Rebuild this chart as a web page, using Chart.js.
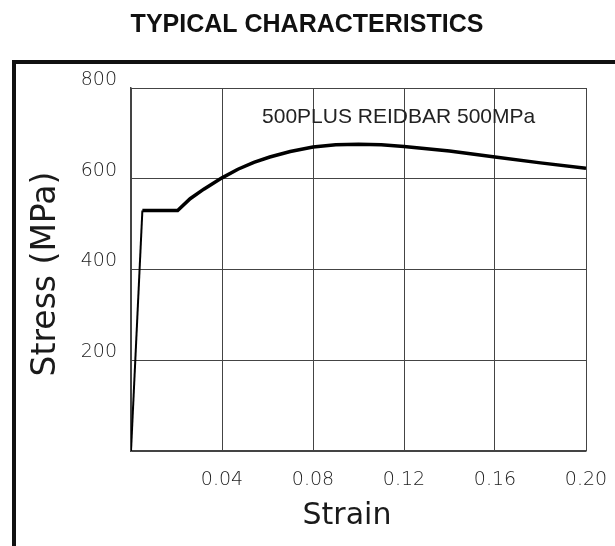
<!DOCTYPE html>
<html>
<head>
<meta charset="utf-8">
<script src="https://cdn.jsdelivr.net/npm/chart.js@4.4.0/dist/chart.umd.min.js"></script>
<style>
  html, body { margin: 0; padding: 0; background: #fff; }
  #wrap { position: relative; width: 615px; height: 546px; overflow: hidden; }
  #frame {
    position: absolute; left: 12px; top: 60px; right: -10px; bottom: -10px;
    border-top: 4px solid #111; border-left: 4px solid #111;
  }
  canvas { position: absolute; left: 0; top: 0; }
</style>
</head>
<body>
<div id="wrap">
  <div id="frame"></div>
  <canvas id="chart" width="615" height="546"></canvas>
</div>
<script>
// ── Data ──
const strain = [0, 0.005, 0.0205, 0.026, 0.032, 0.04, 0.047, 0.054, 0.061, 0.07, 0.08, 0.09, 0.10, 0.11, 0.12, 0.14, 0.16, 0.18, 0.20];
const stress = [0, 530, 530, 556, 577, 602, 621, 636, 648, 660, 670, 675, 676, 675, 671, 661, 648, 635, 623];

const xTicks = [0.04, 0.08, 0.12, 0.16, 0.20];
const yTicks = [200, 400, 600, 800];

const chartTitle = 'TYPICAL CHARACTERISTICS';
const curveLabel = '500PLUS REIDBAR 500MPa';
const labelAt = { x: 0.0576, y: 736 };
const xTitle = 'Strain';
const yTitle = 'Stress (MPa)';

const LIGHT = "'DejaVu Sans', sans-serif";

// ── Titles, curve label and axis names ──
const textPlugin = {
  id: 'texts',
  afterDraw(chart) {
    const { ctx, chartArea, scales } = chart;
    ctx.save();
    ctx.fillStyle = '#111';
    ctx.textAlign = 'center';
    ctx.textBaseline = 'middle';
    ctx.font = "bold 25px 'Liberation Sans', Arial, sans-serif";
    ctx.fillText(chartTitle, 307, 25);

    ctx.fillStyle = '#222';
    ctx.font = "21px 'Liberation Sans', Arial, sans-serif";
    ctx.textAlign = 'left';
    ctx.fillText(curveLabel, scales.x.getPixelForValue(labelAt.x), scales.y.getPixelForValue(labelAt.y));

    ctx.fillStyle = '#1a1a1a';
    ctx.font = "30px " + LIGHT;
    ctx.textAlign = 'center';
    ctx.fillText(xTitle, chartArea.left + 216, 516);

    ctx.translate(46, 274);
    ctx.rotate(-Math.PI / 2);
    ctx.font = "33px " + LIGHT;
    ctx.fillText(yTitle, 0, 0);
    ctx.restore();
  }
};

new Chart(document.getElementById('chart'), {
  type: 'line',
  data: {
    datasets: [{
      data: strain.map((s, i) => ({ x: s, y: stress[i] })),
      borderColor: '#000',
      borderWidth: 3.5,
      pointRadius: 0,
      tension: 0,
      fill: false,
      segment: {
        borderWidth: ctx => ctx.p0DataIndex === 0 ? 2 : 3.5,
      },
    }],
  },
  options: {
    responsive: false,
    animation: false,
    layout: { padding: { left: 0, top: 88, right: 29, bottom: 0 } },
    plugins: {
      legend: { display: false },
      tooltip: { enabled: false },
    },
    scales: {
      x: {
        type: 'linear',
        min: 0,
        max: 0.20,
        afterFit: s => { s.height = 95; s.paddingLeft = 0; s.paddingRight = 0; },
        afterBuildTicks: s => { s.ticks = [0].concat(xTicks).map(v => ({ value: v })); },
        grid: { color: '#444', lineWidth: 1, drawTicks: false },
        border: { color: '#444', width: 1.5 },
        ticks: {
          padding: 18,
          color: '#222',
          font: { family: LIGHT, size: 19, weight: 200 },
          callback: v => v === 0 ? '' : v.toFixed(2),
        },
      },
      y: {
        min: 0,
        max: 800,
        afterFit: s => { s.width = 131; s.paddingTop = 0; s.paddingBottom = 0; },
        afterBuildTicks: s => { s.ticks = [0].concat(yTicks).map(v => ({ value: v })); },
        grid: { color: '#444', lineWidth: 1, drawTicks: false },
        border: { color: '#444', width: 1.5 },
        ticks: {
          padding: 14,
          labelOffset: -8,
          color: '#222',
          font: { family: LIGHT, size: 19, weight: 200 },
          callback: v => v === 0 ? '' : String(v),
        },
      },
    },
  },
  plugins: [textPlugin],
});
</script>
</body>
</html>
